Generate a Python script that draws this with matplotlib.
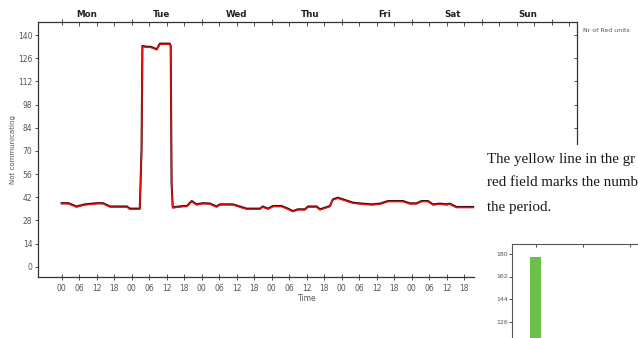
import matplotlib
matplotlib.use("Agg")
import matplotlib.pyplot as plt
import matplotlib.patheffects as pe
from matplotlib.patches import Rectangle
from matplotlib.lines import TICKLEFT

# ---------------- data ----------------
hours = [0, 2.3, 5.1, 8, 12.1, 14.2, 16.6, 22.4, 23.4, 26.8, 27.4, 27.7, 29.2, 30.6,
         32.6, 33.7, 37.1, 37.4, 37.7, 38.1, 41.7, 43, 44.6, 46.3, 48.4, 50.8, 53.1,
         54.3, 58.7, 61.1, 63.4, 68, 69, 70.7, 72.5, 75.4, 77.6, 79.3, 81, 83.4, 84.5,
         87.4, 88.6, 92, 93, 94.7, 96.5, 99.9, 103.3, 106.3, 109.1, 111.9, 117, 119.4,
         121.7, 123.4, 125.6, 127.3, 129.7, 132, 133.1, 135.4, 141.1]
not_communicating = [38, 38, 36, 37.3, 38, 38, 36, 36, 34.7, 34.7, 70, 133, 132.5, 132.5,
                     131, 134.4, 134.4, 133, 50, 35.5, 36.3, 36.3, 39.3, 37.3, 38, 37.8, 36,
                     37.3, 37.3, 36, 34.7, 34.7, 36, 34.7, 36.3, 36.3, 34.7, 33.2, 34.3, 34.3, 36,
                     36, 34.3, 36.3, 40.3, 41.3, 40.3, 38.3, 37.7, 37.3, 37.7, 39.3, 39.3, 37.9,
                     37.9, 39.3, 39.3, 37.3, 37.7, 37.3, 37.7, 35.7, 35.7]

y_ticks = [0, 14, 28, 42, 56, 70, 84, 98, 112, 126, 140]
hour_ticks = list(range(0, 142, 6))
hour_labels = ["00", "06", "12", "18"] * 6
day_names = ["Mon", "Tue", "Wed", "Thu", "Fri", "Sat", "Sun"]
day_label_pos = [8.7, 34.4, 60.1, 85.1, 110.9, 134.2, 159.9]

bar_cats = [1]
bar_vals = [178]
bar_yticks = [126, 144, 162, 180]

text_lines = ["The yellow line in the gr", "red field marks the numb", "the period."]

# ---------------- figure ----------------
W, H = 638, 338
fig = plt.figure(figsize=(W / 100, H / 100), dpi=100)
fig.patch.set_facecolor("white")

def fx(px):
    return px / W

def fy(py):
    return 1 - py / H

spine_c = "#333333"
tick_c = "#555555"

ax = fig.add_axes([fx(38), fy(277), fx(577 - 38), (277 - 22) / H])
ax.plot(hours, not_communicating, color="#ee1111", lw=0.9,
        path_effects=[pe.Stroke(linewidth=1.5, foreground="#4a0c0c", offset=(0, 0.5)),
                      pe.Normal()])
ax.set_xlim(-8.1, 176.7)
ax.set_ylim(-6.2, 147.9)
ax.set_yticks(y_ticks)
ax.set_yticklabels([str(v) for v in y_ticks])
ax.set_xticks(hour_ticks)
ax.set_xticklabels(hour_labels)
ax.tick_params(axis="x", direction="inout", length=4, width=0.6, colors=spine_c,
               labelsize=5.5, labelcolor=tick_c, pad=3)
ax.tick_params(axis="y", direction="out", length=2.5, width=0.6, colors=spine_c,
               labelsize=5.5, labelcolor=tick_c, pad=1.5, right=True, labelright=False)
for t in ax.yaxis.get_major_ticks():
    t.tick2line.set_marker(TICKLEFT)
    t.tick2line.set_markersize(2.5)
ax.set_ylabel("Not communicating", fontsize=5, color=tick_c, labelpad=1.5)
ax.set_xlabel("Time", fontsize=5.5, color=tick_c, labelpad=1)
for s in ax.spines.values():
    s.set_color(spine_c)
    s.set_linewidth(0.9)

# top axis: day names
axd = ax.twiny()
axd.set_xlim(ax.get_xlim())
axd.set_xticks(day_label_pos)
axd.set_xticklabels(day_names, fontsize=6.3, fontweight="bold", color="#222222")
axd.tick_params(axis="x", length=0, pad=2)
for s in axd.spines.values():
    s.set_visible(False)

# top axis: tick marks
axt = ax.twiny()
axt.set_xlim(ax.get_xlim())
axt.set_xticks(list(range(0, 175, 24)))
axt.set_xticks(list(range(0, 175, 6)), minor=True)
axt.set_xticklabels([])
axt.tick_params(axis="x", which="major", direction="inout", length=5, width=0.6, colors=spine_c)
axt.tick_params(axis="x", which="minor", direction="in", length=3, width=0.6, colors=spine_c)
for s in axt.spines.values():
    s.set_visible(False)

# white document area covering lower right part of the chart
fig.add_artist(Rectangle((fx(475), 0), 1 - fx(475), fy(145), transform=fig.transFigure,
                         facecolor="white", edgecolor="none", zorder=1))

fig.text(fx(583), fy(30), "Nr of Red units", fontsize=4.5, color=tick_c,
         va="center", ha="left", zorder=3)

for i, line in enumerate(text_lines):
    fig.text(fx(487), fy(159 + 24 * i), line, fontsize=10.8, family="Liberation Serif",
             color="#1a1a1a", va="center", ha="left", zorder=3)

# bar chart, partially visible
px_per_unit = 1.25
y_top_val = 188
bottom_px = 244 + y_top_val * px_per_unit
axb = fig.add_axes([fx(512), 1 - bottom_px / H, fx(47 * 5), (bottom_px - 244) / H], zorder=4)
axb.bar(bar_cats, bar_vals, width=0.23, color="#6cc04a")
axb.set_xlim(0.5, 5.5)
axb.set_ylim(0, y_top_val)
axb.set_yticks(bar_yticks)
axb.set_yticklabels([str(v) for v in bar_yticks])
axb.tick_params(axis="y", direction="out", length=2, width=0.6, colors=spine_c,
                labelsize=4.5, labelcolor=tick_c, pad=1)
axb.set_xticks([1, 2, 3, 4, 5])
axb.tick_params(axis="x", top=True, bottom=False, labelbottom=False, direction="in",
                length=2, width=0.6, colors=spine_c)
for s in axb.spines.values():
    s.set_color("#555555")
    s.set_linewidth(0.8)

fig.savefig("out.png", dpi=100, facecolor="white")
